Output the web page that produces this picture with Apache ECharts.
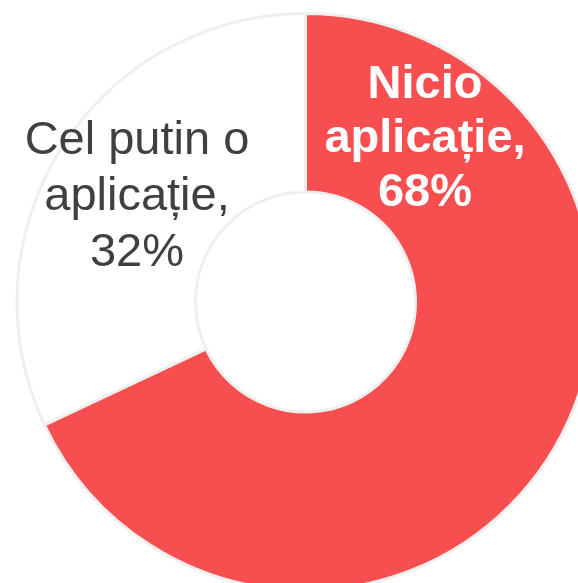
<!DOCTYPE html>
<html>
<head>
<meta charset="utf-8">
<script src="https://cdn.jsdelivr.net/npm/echarts@6/dist/echarts.min.js"></script>
<style>
  html, body { margin: 0; padding: 0; background: #ffffff; }
  #chart { width: 578px; height: 583px; }
</style>
</head>
<body>
<div id="chart"></div>
<script>
// Share of respondents by number of apps used
const categories = ['Nicio\naplicație', 'Cel putin o\naplicație'];
const shares = [68, 32];
const sliceColors = ['#f74f50', '#ffffff'];
const labelColors = ['#ffffff', '#404040'];
const labelWeights = ['bold', 'normal'];
const labelLineHeights = [54, 56];
const labelSpots = [[425, 139], [137, 197]];

const chart = echarts.init(document.getElementById('chart'), null, { renderer: 'canvas' });

chart.setOption({
  animation: false,
  series: [{
    type: 'pie',
    center: [305.5, 302],
    radius: [110, 288.5],
    startAngle: 90,
    clockwise: true,
    silent: true,
    itemStyle: { borderColor: '#efefef', borderWidth: 3 },
    label: {
      show: true,
      position: 'inside',
      formatter: '{b},\n{c}%',
      fontFamily: '"Liberation Sans", Arial, sans-serif',
      fontSize: 47,
      align: 'center'
    },
    labelLine: { show: false },
    labelLayout: function (params) {
      const p = labelSpots[params.dataIndex];
      return { x: p[0], y: p[1], align: 'center', verticalAlign: 'middle' };
    },
    data: categories.map((name, i) => ({
      name: name,
      value: shares[i],
      itemStyle: { color: sliceColors[i] },
      label: {
        color: labelColors[i],
        fontWeight: labelWeights[i],
        lineHeight: labelLineHeights[i]
      }
    }))
  }]
});
</script>
</body>
</html>
